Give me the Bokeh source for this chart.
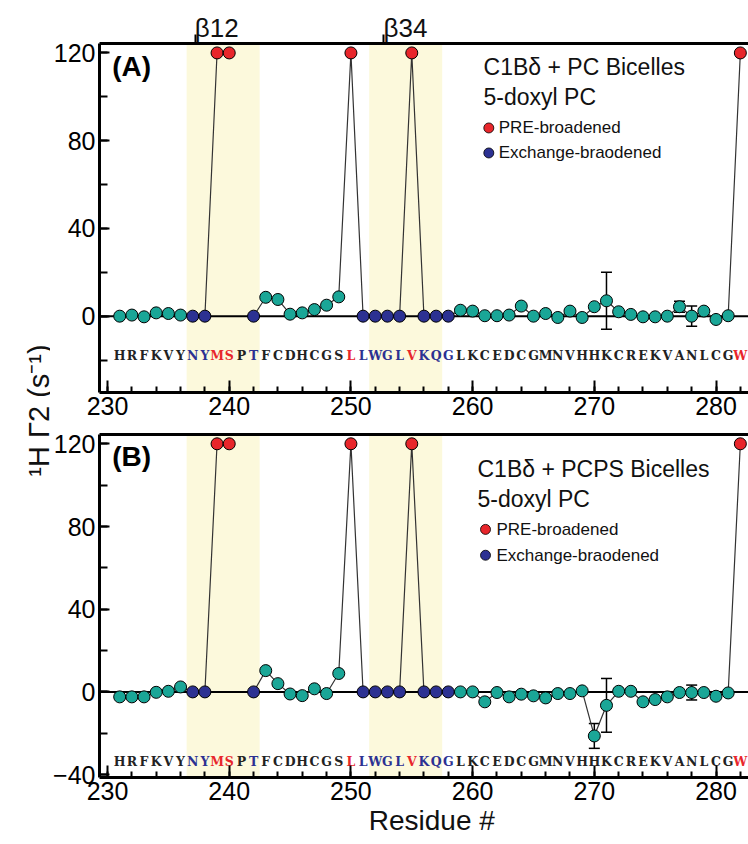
import math
from bokeh.plotting import figure
from bokeh.layouts import row, column
from bokeh.models import (ColumnDataSource, BoxAnnotation, Span, Whisker, TeeHead, Label,
                          LinearAxis, SingleIntervalTicker, FixedTicker, Range1d)
from bokeh.embed import file_html
from bokeh.resources import INLINE
from bokeh.core.properties import value

NaN = float("nan")

# ---------------- data ----------------
residues = list(range(231, 283))
sequence = "HRFKVYNYMSPTFCDHCGSLLWGLVKQGLKCEDCGMNVHHKCREKVANLCGWe"
pre_broadened = [239, 240, 250, 255, 282]
exchange_broadened = [237, 238, 242, 251, 252, 253, 254, 256, 257, 258]

beta_names = ["β12", "β34"]
beta_start = [236.5, 251.5]
beta_end = [242.5, 257.5]
beta_tick = [237.2, 252.7]

# Panel A: C1Bδ + PC bicelles, 5-doxyl PC
gamma_A = [0.0, 0.5, -0.3, 1.5, 1.2, 0.5, 0, 0, 120, 120,
           NaN, 0, 8.6, 7.6, 0.9, 1.5, 3.0, 5.0, 8.8, 120,
           0, 0, 0, 0, 120, 0, 0, 0, 2.7, 2.3,
           0.2, 0.2, 0.5, 4.6, 0.0, 1.2, -0.6, 2.3, -0.6, 4.3,
           7.0, 2.0, 0.8, -0.3, -0.3, 0.0, 4.3, 0.0, 2.3, -1.5,
           0.2, 120]
err_res_A = [271, 277, 278]
err_A = [13.0, 2.5, 4.6]

# Panel B: C1Bδ + PCPS bicelles, 5-doxyl PC
gamma_B = [-2.4, -2.4, -2.4, -0.2, 0.3, 2.4, 0, 0, 120, 120,
           NaN, 0, 10.3, 4.0, -1.0, -1.8, 1.5, -0.8, 8.9, 120,
           0, 0, 0, 0, 120, 0, 0, 0, 0.0, 0.0,
           -4.8, -0.3, -2.4, -1.1, -1.9, -2.9, -0.8, -0.8, 0.5, -21.3,
           -6.5, 0.3, 0.3, -4.8, -3.7, -2.4, -0.3, -0.3, -0.3, -2.1,
           -0.5, 120]
err_res_B = [270, 271, 278]
err_B = [6.0, 13.0, 3.6]

titles = ["C1Bδ + PC Bicelles", "C1Bδ + PCPS Bicelles"]
subtitle = "5-doxyl PC"
legend_names = ["PRE-broadened", "Exchange-braodened"]
y_label = "¹H Γ2 (s⁻¹)"
x_label = "Residue #"

# ---------------- style ----------------
TEAL = "#1AA697"
NAVY = "#2C3192"
RED = "#E8262B"
SEQ_BLACK = "#222222"
BAND = "#FCF9DC"
FONT = "Liberation Sans"
X_LO, X_HI = 229.34, 282.67
NBSP = "\u00a0"


def point_color(r):
    if r in pre_broadened:
        return RED
    if r in exchange_broadened:
        return NAVY
    return TEAL


def seq_color(i):
    r = 231 + i
    if r in pre_broadened or r > 282:
        return RED
    if r in exchange_broadened:
        return NAVY
    return SEQ_BLACK


def style_axis(ax, tick_in, minor_in):
    ax.axis_line_width = 3
    ax.axis_line_color = "black"
    ax.major_tick_in = tick_in
    ax.major_tick_out = 0
    ax.minor_tick_in = minor_in
    ax.minor_tick_out = 0
    ax.major_tick_line_width = 2
    ax.minor_tick_line_width = 2
    ax.major_label_text_font = FONT
    ax.major_label_text_font_size = "25px"
    ax.major_label_text_color = "black"


def make_panel(gamma, err_res, err_val, y_lo, y_hi, frame_h, b_top, b_bot,
               tag, title, seq_y, leg, beta, xlabel):
    p = figure(frame_width=649, frame_height=frame_h,
               min_border_left=49, min_border_right=0,
               min_border_top=b_top, min_border_bottom=b_bot,
               x_range=Range1d(X_LO, X_HI), y_range=Range1d(y_lo, y_hi),
               x_axis_location=None, y_axis_location=None,
               output_backend="svg", toolbar_location=None)
    p.outline_line_color = None
    p.background_fill_color = "white"
    p.border_fill_color = "white"
    p.grid.visible = False

    # axes
    xa = LinearAxis(ticker=SingleIntervalTicker(interval=10, num_minor_ticks=5))
    style_axis(xa, 12, 6)
    xa.major_label_standoff = 4
    if xlabel:
        xa.axis_label = NBSP * 2 + xlabel
        xa.axis_label_text_font = FONT
        xa.axis_label_text_font_size = "28px"
        xa.axis_label_text_font_style = "normal"
        xa.axis_label_text_color = "#111111"
        xa.axis_label_standoff = 2
    p.add_layout(xa, "below")

    ya = LinearAxis(ticker=SingleIntervalTicker(interval=40, num_minor_ticks=2))
    style_axis(ya, 10, 8)
    ya.major_label_standoff = 4
    p.add_layout(ya, "left")

    if beta:
        # labels sit just right of their tick, as in the original figure
        ta = LinearAxis(ticker=FixedTicker(ticks=beta_tick),
                        major_label_overrides={t: NBSP * 6 + n
                                               for t, n in zip(beta_tick, beta_names)})
        ta.major_tick_out = 9
        ta.major_label_text_font = FONT
        ta.major_label_text_font_size = "26px"
        ta.major_label_text_color = "#111111"
        ta.major_label_standoff = -8
    else:
        ta = LinearAxis(ticker=FixedTicker(ticks=[]))
        ta.major_tick_out = 0
    ta.axis_line_width = 3
    ta.axis_line_color = "black"
    ta.major_tick_in = 0
    ta.major_tick_line_width = 2
    ta.minor_tick_in = 0
    ta.minor_tick_out = 0
    p.add_layout(ta, "above")

    # beta-strand bands and zero line
    for s, e in zip(beta_start, beta_end):
        p.add_layout(BoxAnnotation(left=s, right=e, fill_color=BAND, fill_alpha=1,
                                   line_color=None, level="underlay"))
    p.add_layout(Span(location=0, dimension="width", line_color="black",
                      line_width=2, level="underlay"))

    # error bars
    esrc = ColumnDataSource(dict(
        x=err_res,
        upper=[gamma[residues.index(r)] + e for r, e in zip(err_res, err_val)],
        lower=[gamma[residues.index(r)] - e for r, e in zip(err_res, err_val)]))
    p.add_layout(Whisker(source=esrc, base="x", upper="upper", lower="lower",
                         line_color="black", line_width=1.5, level="underlay",
                         upper_head=TeeHead(size=11, line_width=1.5, line_color="black"),
                         lower_head=TeeHead(size=11, line_width=1.5, line_color="black")))

    # connecting line (gap where no data)
    p.line(residues, gamma, line_color="#333333", line_width=1.2)

    xs, ys, cs = [], [], []
    for r, g in zip(residues, gamma):
        if not math.isnan(g):
            xs.append(r)
            ys.append(g)
            cs.append(point_color(r))
    p.scatter(x="x", y="y", source=ColumnDataSource(dict(x=xs, y=ys, c=cs)),
              size=12, fill_color="c", line_color="black", line_width=1)

    # sequence
    seq_x = [231 + i for i in range(len(sequence))]
    p.text(x=seq_x, y=[seq_y] * len(sequence), text=list(sequence),
           text_color=[seq_color(i) for i in range(len(sequence))],
           text_font=value("DejaVu Serif"), text_font_style="bold",
           text_font_size="12.5px", text_align="center", text_baseline="middle")

    # panel tag
    p.add_layout(Label(x=230.39, y=tag[1], text=tag[0], text_font=FONT,
                       text_font_size="28px", text_font_style="bold", text_color="black",
                       text_align="left", text_baseline="middle"))

    # legend block
    tx, t1y, t2y, dx, d1y, d2y, lx = leg
    for txt, yy in [(title, t1y), (subtitle, t2y)]:
        p.add_layout(Label(x=tx, y=yy, text=txt, text_font=FONT, text_font_size="23px",
                           text_align="left", text_baseline="middle", text_color="#111111"))
    p.scatter(x=[dx, dx], y=[d1y, d2y], size=10, fill_color=[RED, NAVY],
              line_color="black", line_width=0.8)
    for txt, yy in zip(legend_names, [d1y, d2y]):
        p.add_layout(Label(x=lx, y=yy, text=txt, text_font=FONT, text_font_size="17px",
                           text_align="left", text_baseline="middle", text_color="#111111"))
    return p


pA = make_panel(gamma_A, err_res_A, err_A, -34.8, 124.3, 349, 43, 34,
                ("(A)", 113.7), titles[0], -17.8,
                (260.9, 113.6, 100.0, 261.33, 85.8, 74.4, 262.15), True, None)
pB = make_panel(gamma_B, err_res_B, err_B, -41.4, 124.5, 343, 8, 67,
                ("(B)", 114.0), titles[1], -33.5,
                (260.4, 107.6, 93.1, 261.06, 78.6, 66.1, 261.96), False, x_label)

# y label column
pL = figure(width=50, height=844, x_range=Range1d(0, 50), y_range=Range1d(0, 844),
            min_border=0, x_axis_location=None, y_axis_location=None,
            output_backend="svg", toolbar_location=None)
pL.outline_line_color = None
pL.grid.visible = False
pL.add_layout(Label(x=38, y=434, text=y_label, angle=math.pi / 2,
                    text_font=FONT, text_font_size="29px", text_align="center",
                    text_baseline="middle", text_color="#111111"))

layout = row(pL, column(pA, pB))
open("out.html", "w").write(file_html(layout, INLINE))
